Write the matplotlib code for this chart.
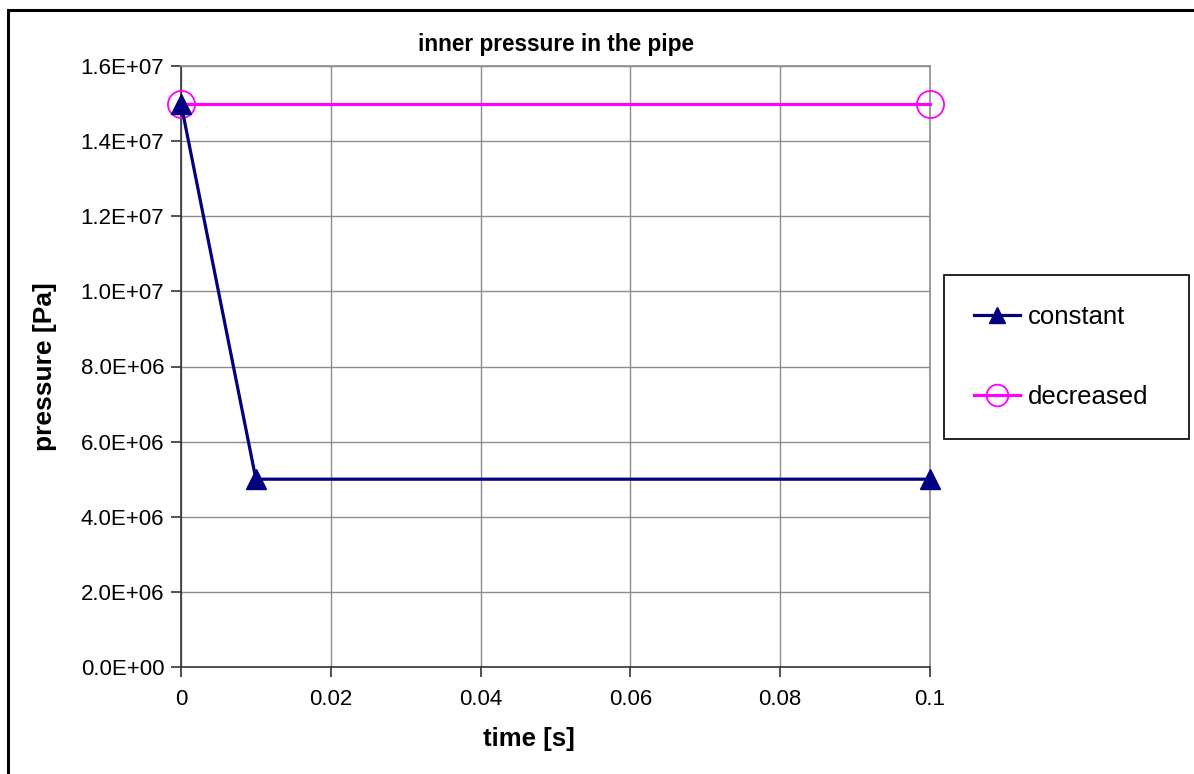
import numpy as np
import matplotlib.pyplot as plt
from matplotlib.patches import Rectangle
from matplotlib.ticker import FuncFormatter

plt.rcParams['font.family'] = ['Liberation Sans', 'DejaVu Sans']

# pressure histories
t_constant = [0.0, 0.01, 0.1]
p_constant = [1.5e7, 5.0e6, 5.0e6]
t_decreased = [0.0, 0.1]
p_decreased = [1.5e7, 1.5e7]

xticks = [0, 0.02, 0.04, 0.06, 0.08, 0.1]
xtick_labels = ['0', '0.02', '0.04', '0.06', '0.08', '0.1']
yticks = np.arange(0, 1.6e7 + 1, 2e6)

W, H = 1194, 774
fig = plt.figure(figsize=(W / 100, H / 100), dpi=100)

# outer chart frame (runs off the right and bottom edges)
fig.patches.append(Rectangle((8 / W, -0.1), 1.2, 1.1 - 10 / H, transform=fig.transFigure,
                             fill=False, edgecolor='black', linewidth=2.2, zorder=0))

ax = fig.add_axes([181 / W, 1 - 667 / H, (930 - 181) / W, (667 - 66) / H])

ax.plot(t_decreased, p_decreased, color='#FF00FF', linewidth=2.3, marker='o',
        markersize=19.5, markerfacecolor='none', markeredgecolor='#FF00FF',
        markeredgewidth=1.3, label='decreased', clip_on=False, zorder=3)
ax.plot(t_constant, p_constant, color='#000080', linewidth=2.3, marker='^',
        markersize=14.5, markerfacecolor='#000080', markeredgecolor='#000080',
        label='constant', clip_on=False, zorder=4)

ax.set_xlim(0, 0.1)
ax.set_ylim(0, 1.6e7)
ax.set_xticks(xticks)
ax.set_xticklabels(xtick_labels)
ax.set_yticks(yticks)
ax.yaxis.set_major_formatter(FuncFormatter(lambda v, _: '{:.1E}'.format(v)))

ax.grid(True, color='#8c8c8c', linewidth=1.0)
ax.set_axisbelow(True)
for side in ['top', 'right']:
    ax.spines[side].set_color('#8c8c8c')
    ax.spines[side].set_linewidth(1.2)
for side in ['left', 'bottom']:
    ax.spines[side].set_color('#333333')
    ax.spines[side].set_linewidth(1.2)

ax.tick_params(axis='both', direction='out', length=7, width=1.2, color='#333333',
               labelsize=16, pad=5)
ax.tick_params(axis='x', pad=9)

ax.set_title('inner pressure in the pipe', fontsize=16.3, fontweight='bold', pad=11)
ax.set_xlabel('time [s]', fontsize=18.5, fontweight='bold', labelpad=14)
ax.xaxis.set_label_coords(0.4646, -0.1, transform=ax.transAxes)
ax.xaxis.label.set_verticalalignment('top')
ax.set_ylabel('pressure [Pa]', fontsize=19, fontweight='bold', labelpad=17)

handles, labels = ax.get_legend_handles_labels()
leg = fig.legend(handles[::-1], labels[::-1], loc='upper left', mode='expand',
                 bbox_to_anchor=(944 / W, 1 - 441 / H, (1189 - 944) / W, (441 - 275) / H),
                 fontsize=18.5, frameon=True, fancybox=False, edgecolor='black',
                 framealpha=1, borderpad=1.15, labelspacing=2.2, handlelength=1.8,
                 handletextpad=0.3, borderaxespad=0, markerscale=0.8)
leg.get_frame().set_linewidth(1.2)

fig.savefig('out.png', dpi=100)
